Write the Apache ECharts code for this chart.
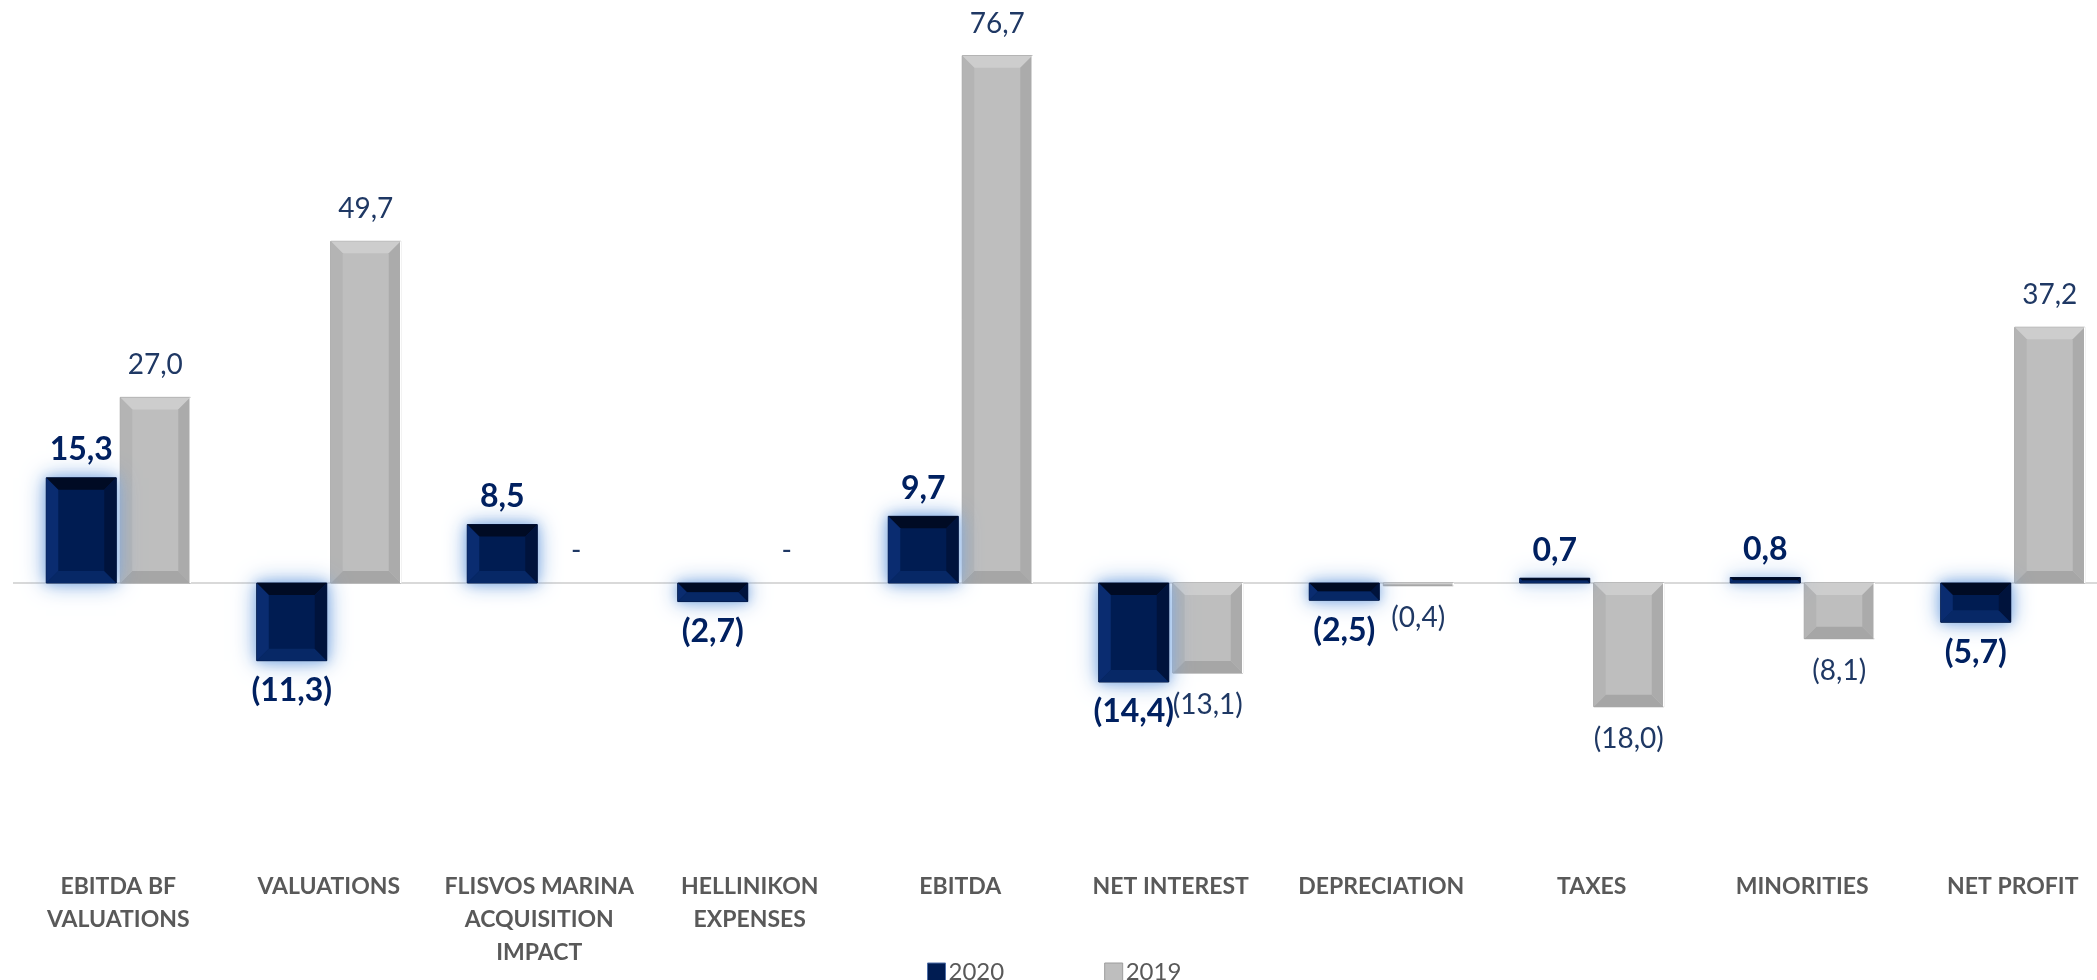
<!DOCTYPE html>
<html>
<head>
<meta charset="utf-8">
<script src="https://cdn.jsdelivr.net/npm/echarts@6/dist/echarts.min.js"></script>
<style>
html,body{margin:0;padding:0;background:#fff;}
#chart{width:2097px;height:980px;}
</style>
</head>
<body>
<div id="chart"></div>
<script>
// ---- data ----
const categories = [
  'EBITDA BF\nVALUATIONS',
  'VALUATIONS',
  'FLISVOS MARINA\nACQUISITION\nIMPACT',
  'HELLINIKON\nEXPENSES',
  'EBITDA',
  'NET INTEREST',
  'DEPRECIATION',
  'TAXES',
  'MINORITIES',
  'NET PROFIT'
];
const seriesNames = ['2020', '2019'];
const values2020 = [15.3, -11.3, 8.5, -2.7, 9.7, -14.4, -2.5, 0.7, 0.8, -5.7];
const values2019 = [27.0, 49.7, 0, 0, 76.7, -13.1, -0.4, -18.0, -8.1, 37.2];

// ---- styles ----
const BAR_W = 70;
const BAR_GAP = 4;
const BEVEL = 12;
const FONT = 'Lato, "Open Sans", sans-serif';

const styles = [
  { // 2020
    face: '#001C52', top: '#000B24', left: '#0A2C70', right: '#00133C', bottom: '#072866',
    stroke: '#00133C', glow: true,
    label: { color: '#002060', size: 32, weight: 'bold', distPos: 12, distNeg: 14 }
  },
  { // 2019
    face: '#BEBEBE', top: '#CDCDCD', left: '#B4B4B4', right: '#ABABAB', bottom: '#A6A6A6',
    stroke: '#9C9C9C', glow: false,
    label: { color: '#1F3864', size: 28, weight: 'normal', distPos: 18, distNeg: 18 }
  }
];

function fmt(v) {
  if (v === 0) return '-';
  const s = Math.abs(v).toFixed(1).replace('.', ',');
  return v < 0 ? '(' + s + ')' : s;
}

function makeRender(si) {
  const st = styles[si];
  return function (params, api) {
    const cat = api.value(0);
    const val = api.value(1);
    const base = api.coord([cat, 0]);
    const end = api.coord([cat, val]);
    const off = BAR_W / 2 + BAR_GAP / 2;
    const cx = base[0] + (si === 0 ? -off : off);
    const x0 = cx - BAR_W / 2, x1 = cx + BAR_W / 2;
    const yA = Math.min(base[1], end[1]);
    const yB = Math.max(base[1], end[1]);
    const h = yB - yA;
    const children = [];
    if (h > 0.5) {
      const b = Math.min(BEVEL, h / 2, BAR_W / 2);
      if (st.glow) {
        children.push({
          type: 'rect',
          shape: { x: x0, y: yA, width: BAR_W, height: h },
          style: { fill: 'rgb(130,170,225)', shadowBlur: 22, shadowColor: 'rgba(120,165,225,0.95)' }
        });
        children.push({
          type: 'rect',
          shape: { x: x0, y: yA, width: BAR_W, height: h },
          style: { fill: 'rgb(130,170,225)', shadowBlur: 10, shadowColor: 'rgba(140,180,230,0.9)' }
        });
      }
      children.push({
        type: 'rect',
        shape: { x: x0, y: yA, width: BAR_W, height: h },
        style: { fill: st.face, stroke: st.stroke, lineWidth: 1 }
      });
      children.push({ type: 'polygon', shape: { points: [[x0, yA], [x1, yA], [x1 - b, yA + b], [x0 + b, yA + b]] }, style: { fill: st.top } });
      children.push({ type: 'polygon', shape: { points: [[x0, yB], [x1, yB], [x1 - b, yB - b], [x0 + b, yB - b]] }, style: { fill: st.bottom } });
      children.push({ type: 'polygon', shape: { points: [[x0, yA], [x0 + b, yA + b], [x0 + b, yB - b], [x0, yB]] }, style: { fill: st.left } });
      children.push({ type: 'polygon', shape: { points: [[x1, yA], [x1 - b, yA + b], [x1 - b, yB - b], [x1, yB]] }, style: { fill: st.right } });
      if (!st.glow) {
        children.push({ type: 'line', shape: { x1: x1, y1: yA, x2: x1, y2: yB }, style: { stroke: '#FFFFFF', lineWidth: 1.5 } });
      }
    }
    const neg = val < 0;
    children.push({
      type: 'text',
      x: cx,
      y: neg ? yB + st.label.distNeg : yA - st.label.distPos,
      style: {
        text: fmt(val),
        fill: st.label.color,
        fontSize: st.label.size,
        fontWeight: st.label.weight,
        fontFamily: FONT,
        align: 'center',
        verticalAlign: neg ? 'top' : 'bottom'
      }
    });
    return { type: 'group', children: children };
  };
}

const chart = echarts.init(document.getElementById('chart'));
chart.setOption({
  animation: false,
  backgroundColor: '#ffffff',
  grid: { left: 13, right: -21, top: 33, bottom: 122, outerBoundsMode: 'none', containLabel: false },
  legend: {
    data: [
      { name: seriesNames[0], itemStyle: { color: styles[0].face, borderColor: '#4F6FA8', borderWidth: 1 } },
      { name: seriesNames[1], itemStyle: { color: styles[1].face, borderColor: '#9C9C9C', borderWidth: 1 } }
    ],
    left: 922,
    top: 955,
    icon: 'rect',
    itemWidth: 18,
    itemHeight: 18,
    itemGap: 100,
    textStyle: { color: '#595959', fontSize: 24, fontFamily: FONT, padding: [0, 0, 0, -2] }
  },
  xAxis: {
    type: 'category',
    data: categories,
    axisLine: { show: false },
    axisTick: { show: false },
    splitLine: { show: false },
    axisLabel: {
      interval: 0,
      color: '#595959',
      fontSize: 23,
      fontWeight: 'bold',
      fontFamily: FONT,
      lineHeight: 33,
      margin: 12
    }
  },
  yAxis: {
    type: 'value',
    min: -40,
    max: 80,
    show: false,
    splitLine: { show: false }
  },
  series: [
    {
      name: seriesNames[0],
      type: 'custom',
      z: 3,
      itemStyle: { color: styles[0].face },
      renderItem: makeRender(0),
      encode: { x: 0, y: 1 },
      data: values2020.map((v, i) => [i, v]),
      markLine: {
        silent: true,
        symbol: 'none',
        z: 1,
        label: { show: false },
        lineStyle: { color: '#D9D9D9', width: 2, type: 'solid' },
        data: [{ yAxis: 0 }]
      }
    },
    {
      name: seriesNames[1],
      type: 'custom',
      z: 2,
      itemStyle: { color: styles[1].face },
      renderItem: makeRender(1),
      encode: { x: 0, y: 1 },
      data: values2019.map((v, i) => [i, v])
    }
  ]
});
</script>
</body>
</html>
